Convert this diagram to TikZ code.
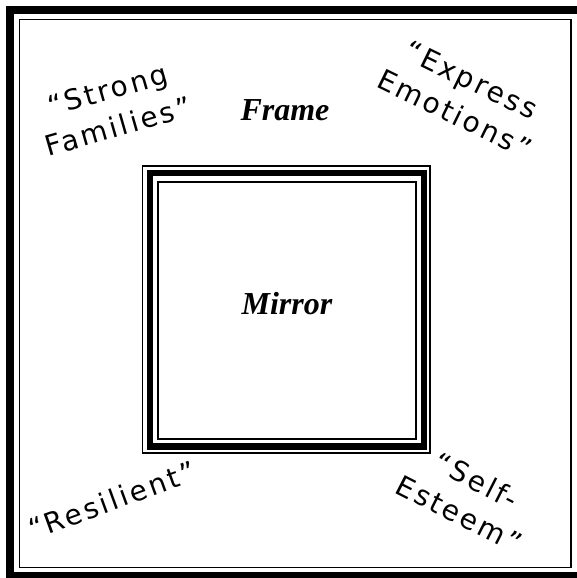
\documentclass[tikz,border=0pt]{standalone}
\usepackage{fontspec}
\setmainfont{Liberation Serif}
\newfontfamily\handfont{DejaVu Sans}[LetterSpace=10]
\usetikzlibrary{positioning}
\tikzset{
  thinline/.style={draw, line width=1.8pt},
  thickline/.style={draw, line width=7pt},
  title/.style={font=\fontsize{32}{38}\selectfont\bfseries\itshape},
  hand/.style={font=\fontsize{28}{38}\selectfont\handfont, align=center, inner sep=0pt}
}
\begin{document}
\begin{tikzpicture}[x=1pt,y=-1pt]
\useasboundingbox (0,0) rectangle (577,578);
% outer frame
\draw[thickline, line width=8pt] (10,10) rectangle (584,576);
\draw[thinline] (19.5,19.5) rectangle (571,567.5);
% mirror
\draw[thinline, line width=1.5pt] (142.5,166) rectangle (430,453);
\draw[thickline, line width=6.5pt] (150,173) rectangle (424,446.5);
\draw[thinline] (158,182) rectangle (416,439);
% labels
\node[title] (frame) at (285,110) {Frame};
\node[title] (mirror) at (287,304) {Mirror};
\node[hand, rotate=16] (strong) at (113,108) {“Strong\\Families”};
\node[hand, rotate=-26] (express) at (463,97) {“Express\\Emotions”};
\node[hand, rotate=20] (resilient) at (112,500) {“Resilient”};
\node[hand, rotate=-27] (esteem) at (468,497) {“Self-\\Esteem”};
\end{tikzpicture}
\end{document}
